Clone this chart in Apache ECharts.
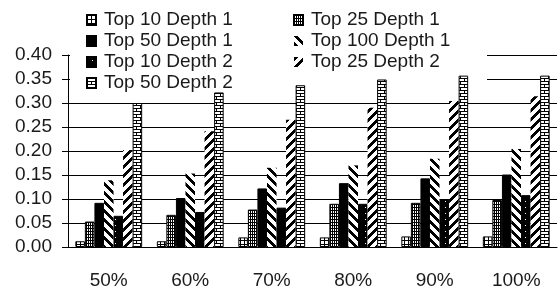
<!DOCTYPE html>
<html>
<head>
<meta charset="utf-8">
<script src="https://cdn.jsdelivr.net/npm/echarts@6/dist/echarts.min.js"></script>
<style>
  html, body { margin: 0; padding: 0; background: #fff; }
  #chart { width: 560px; height: 290px; }
</style>
</head>
<body>
<div id="chart"></div>
<script>
// data
const categories = ['50%', '60%', '70%', '80%', '90%', '100%']
const seriesNames = [
  'Top 10 Depth 1', 'Top 25 Depth 1', 'Top 50 Depth 1', 'Top 100 Depth 1',
  'Top 10 Depth 2', 'Top 25 Depth 2', 'Top 50 Depth 2'
]
const top10Depth1 = [0.012, 0.012, 0.020, 0.020, 0.022, 0.022]
const top25Depth1 = [0.053, 0.067, 0.078, 0.090, 0.092, 0.098]
const top50Depth1 = [0.092, 0.102, 0.122, 0.133, 0.143, 0.151]
const top100Depth1 = [0.139, 0.153, 0.165, 0.170, 0.184, 0.204]
const top10Depth2 = [0.065, 0.073, 0.082, 0.090, 0.100, 0.108]
const top25Depth2 = [0.202, 0.241, 0.265, 0.290, 0.304, 0.314]
const top50Depth2 = [0.300, 0.322, 0.337, 0.349, 0.357, 0.357]
const yTicks = { min: 0, max: 0.4, step: 0.05 }

const allValues = [top10Depth1, top25Depth1, top50Depth1, top100Depth1, top10Depth2, top25Depth2, top50Depth2]

// fill patterns, drawn pixel by pixel
const makePattern = (w, h, isBlack) => {
  const c = document.createElement('canvas')
  c.width = w
  c.height = h
  const ctx = c.getContext('2d')
  ctx.fillStyle = '#fff'
  ctx.fillRect(0, 0, w, h)
  ctx.fillStyle = '#000'
  for (let y = 0; y < h; y++) {
    for (let x = 0; x < w; x++) {
      if (isBlack(x, y)) ctx.fillRect(x, y, 1, 1)
    }
  }
  return { image: c, repeat: 'repeat' }
}

const fills = [
  makePattern(4, 4, (x, y) => x === 0 || y === 0),                 // hash
  makePattern(2, 3, (x, y) => x === 0 || y === 0),                 // dense grid
  '#000',                                                          // solid
  makePattern(9, 9, (x, y) => ((x - y + 18) % 9) < 4),             // back slash
  makePattern(10, 6, (x, y) => !(x === 5 && y === 3)),             // black with dots
  makePattern(9, 9, (x, y) => ((x + y) % 9) < 4),                  // forward slash
  makePattern(8, 6, (x, y) => y === 0 || y === 3 ||
    (x === 0 && y < 3) || (x === 4 && y > 3))                      // brick
]
const borders = [1, 1, 1, 0, 1, 0, 1]

const font = 'Liberation Sans, Arial, sans-serif'
const textColor = '#1a1a1a'

const chart = echarts.init(document.getElementById('chart'), null, { renderer: 'canvas' })

const legendBase = {
  orient: 'vertical',
  top: 10,
  padding: 0,
  itemGap: 1,
  itemWidth: 9,
  itemHeight: 10,
  icon: 'rect',
  textStyle: { fontFamily: font, fontSize: 19, color: textColor, lineHeight: 20, padding: [0, 0, 0, 3] }
}

chart.setOption({
  animation: false,
  backgroundColor: '#fff',
  legend: [
    { ...legendBase, left: 86, data: [seriesNames[0], seriesNames[2], seriesNames[4], seriesNames[6]] },
    { ...legendBase, left: 293, data: [seriesNames[1], seriesNames[3], seriesNames[5]] }
  ],
  // white area behind the legend that hides the top grid lines
  graphic: [{
    type: 'rect',
    left: 70,
    top: 44,
    z: 1,
    silent: true,
    shape: { width: 417, height: 46 },
    style: { fill: '#fff' }
  }],
  grid: { left: 68, right: 3, top: 55, bottom: 39 },
  xAxis: {
    type: 'category',
    data: categories,
    axisLine: { lineStyle: { color: '#000', width: 1 } },
    axisTick: { length: 6, lineStyle: { color: '#000' } },
    axisLabel: { fontFamily: font, fontSize: 19, color: textColor, margin: 24 }
  },
  yAxis: {
    type: 'value',
    min: yTicks.min,
    max: yTicks.max,
    interval: yTicks.step,
    axisLine: { show: true, lineStyle: { color: '#000', width: 1 } },
    axisTick: { show: true, length: 6, lineStyle: { color: '#000' } },
    axisLabel: {
      fontFamily: font, fontSize: 19, color: textColor, margin: 16,
      formatter: v => v.toFixed(2)
    },
    splitLine: { lineStyle: { color: '#000', width: 1 } }
  },
  series: allValues.map((vals, i) => ({
    name: seriesNames[i],
    type: 'bar',
    data: vals,
    barGap: '0%',
    barCategoryGap: '18%',
    itemStyle: { color: fills[i], borderColor: '#000', borderWidth: borders[i] }
  }))
})
</script>
</body>
</html>
